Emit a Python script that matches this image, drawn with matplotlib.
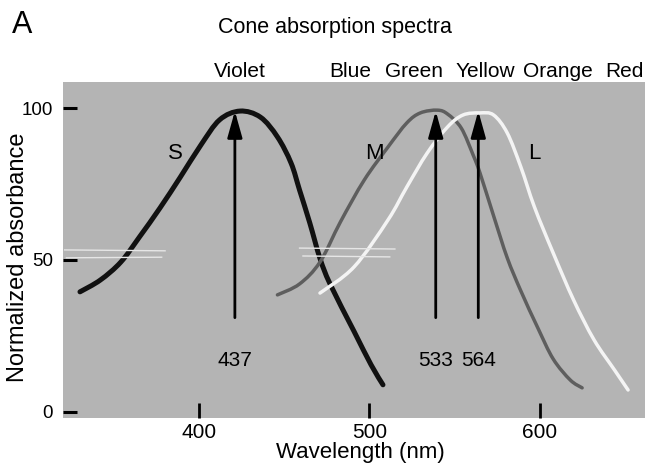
import matplotlib
matplotlib.use("Agg")
import matplotlib.pyplot as plt
import matplotlib.transforms as mtransforms
from matplotlib.path import Path
from matplotlib.patches import PathPatch

plt.rcParams['font.family'] = ['Liberation Sans', 'DejaVu Sans']

# curves (wavelength nm, normalized absorbance)
s_nm = [330, 342, 354, 365, 377, 389, 401, 412, 424, 436, 446, 454, 459, 465, 471, 477, 491, 501, 508]
s_abs = [39.5, 43.4, 49.3, 57.6, 67.1, 77.3, 87.8, 96.1, 99.0, 97.0, 90.5, 81.9, 73.0, 62.2, 50.5, 42.0, 26.5, 15.5, 8.9]

m_nm = [446, 459, 471, 483, 497, 511, 522, 530, 540, 546, 554, 561, 565, 573, 581, 589, 599, 608, 618, 625]
m_abs = [38.5, 42.1, 49.3, 62.5, 76.3, 87.2, 95.1, 98.4, 99.3, 98.0, 93.4, 84.5, 78.6, 64.5, 50.7, 39.8, 27.6, 17.4, 10.5, 7.9]

l_nm = [471, 491, 511, 522, 534, 546, 555, 565, 573, 581, 589, 597, 608, 620, 632, 644, 652]
l_abs = [39.1, 47.7, 63.2, 74.0, 85.2, 93.8, 97.7, 98.4, 97.7, 91.8, 80.6, 67.4, 52.3, 36.8, 23.7, 13.8, 7.2]

# faint white streaks near the 50 level in the scan
streak_nm = [[321, 380], [322, 378], [459, 515], [461, 512]]
streak_abs = [[53.3, 53.0], [50.7, 50.9], [53.9, 53.6], [51.3, 51.0]]

# peak arrows
peak_pos = [421, 539, 564]
peak_text = ["437", "533", "564"]
arrow_tail = 31
arrow_tip = 99
peak_label_y = 17

# curve names
cone_names = ["S", "M", "L"]
cone_name_x = [386, 503, 597]
cone_name_y = [85, 85, 85]

# colour names along the top
colour_names = ["Violet", "Blue", "Green", "Yellow", "Orange", "Red"]
colour_x = [424, 489, 526, 568, 611, 650]


def smooth_curve(ax, xs, ys, **kw):
    # draw a smooth bezier through the read points
    pts = list(zip(xs, ys))
    verts = [pts[0]]
    codes = [Path.MOVETO]
    for i in range(len(pts) - 1):
        p0 = pts[i - 1] if i > 0 else pts[i]
        p1 = pts[i]
        p2 = pts[i + 1]
        p3 = pts[i + 2] if i + 2 < len(pts) else pts[i + 1]
        c1 = (p1[0] + (p2[0] - p0[0]) / 6, p1[1] + (p2[1] - p0[1]) / 6)
        c2 = (p2[0] - (p3[0] - p1[0]) / 6, p2[1] - (p3[1] - p1[1]) / 6)
        verts += [c1, c2, p2]
        codes += [Path.CURVE4] * 3
    ax.add_patch(PathPatch(Path(verts, codes), fill=False, capstyle='round', joinstyle='round', **kw))


fig = plt.figure(figsize=(6.49, 4.68), dpi=100)
ax = fig.add_axes([0.097, 0.107, 0.897, 0.718])
ax.set_facecolor('#b4b4b4')
for sp in ax.spines.values():
    sp.set_visible(False)

for xs, ys in zip(streak_nm, streak_abs):
    ax.plot(xs, ys, color='#e6e6e6', lw=1.0)

smooth_curve(ax, s_nm, s_abs, edgecolor='#111111', lw=3.6)
smooth_curve(ax, m_nm, m_abs, edgecolor='#5e5e5e', lw=2.5)
smooth_curve(ax, l_nm, l_abs, edgecolor='#f4f4f4', lw=2.5)

for x, t in zip(peak_pos, peak_text):
    ax.annotate('', xy=(x, arrow_tip), xytext=(x, arrow_tail),
                arrowprops=dict(arrowstyle='-|>,head_length=1.0,head_width=0.28',
                                mutation_scale=16, color='black', lw=2,
                                shrinkA=0, shrinkB=0))
    ax.text(x, peak_label_y, t, ha='center', va='center', fontsize=15)

for x, y, t in zip(cone_name_x, cone_name_y, cone_names):
    ax.text(x, y, t, ha='center', va='center', fontsize=16)

trans = mtransforms.blended_transform_factory(ax.transData, ax.transAxes)
for x, t in zip(colour_x, colour_names):
    ax.text(x, 1.015, t, ha='center', va='baseline', fontsize=15, transform=trans, clip_on=False)

ax.set_xlim(320, 662)
ax.set_ylim(-2, 108.6)
ax.set_xticks([400, 500, 600])
ax.set_yticks([0, 50, 100])
ax.tick_params(axis='x', direction='in', length=11, width=2, pad=4, labelsize=15)
ax.tick_params(axis='y', direction='in', length=10, width=2.2, pad=7, labelsize=13.5)

fig.text(0.556, 0.022, "Wavelength (nm)", ha='center', va='baseline', fontsize=16)
fig.text(0.028, 0.451, "Normalized absorbance", ha='center', va='center', rotation=90, fontsize=17)
fig.text(0.516, 0.929, "Cone absorption spectra", ha='center', va='baseline', fontsize=15.5)
fig.text(0.018, 0.929, "A", ha='left', va='baseline', fontsize=22)

fig.savefig("out.png", dpi=100)
